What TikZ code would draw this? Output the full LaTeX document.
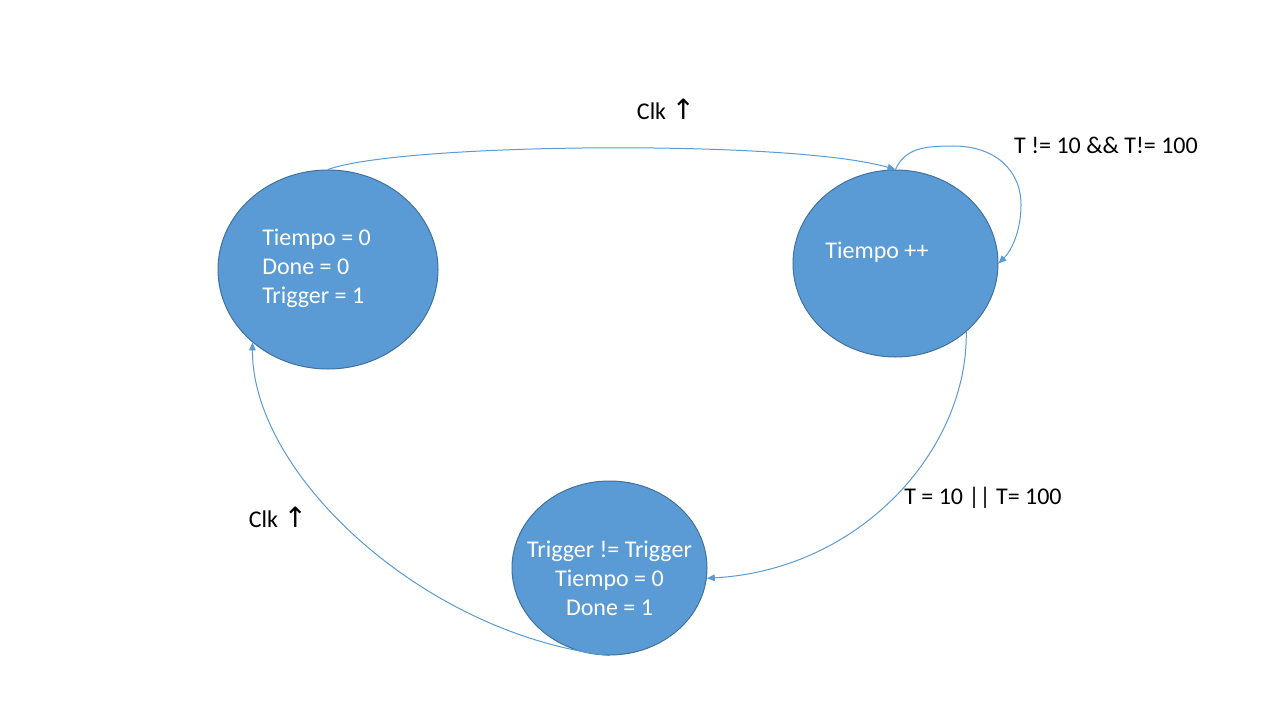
\documentclass[tikz,border=0pt]{standalone}
\usepackage{fontspec}
\setmainfont{Carlito}
\newfontfamily\symfont{DejaVu Sans}
\usetikzlibrary{shapes.geometric,arrows.meta}
\definecolor{stfill}{HTML}{5B9BD5}
\definecolor{stline}{HTML}{41719C}
\definecolor{conncol}{HTML}{5B9BD5}
\newcommand{\myuparrow}{{\symfont\fontsize{21}{21}\selectfont ↑}}
\begin{document}
\begin{tikzpicture}[x=0.75pt,y=-0.75pt,
  state/.style={ellipse, fill=stfill, draw=stline, line width=0.75pt, inner sep=0pt},
  stxt/.style={text=white, font=\fontsize{18}{21.75}\selectfont, inner sep=0pt},
  lbl/.style={text=black, font=\fontsize{18}{21.75}\selectfont, inner sep=0pt},
  link/.style={draw=conncol, line width=0.75pt, -{Triangle[length=6pt,width=5pt]}}]
\fill[white] (0,0) rectangle (1280,720);
\useasboundingbox (0,0) rectangle (1280,720);
% states
\node[state, minimum width=165pt, minimum height=149.25pt] (A) at (328,269.5) {};
\node[state, minimum width=153.75pt, minimum height=140.25pt] (B) at (895.5,263.5) {};
\node[state, minimum width=146.25pt, minimum height=130.5pt] (C) at (609.5,568) {};
\node[stxt, align=left, anchor=west] (At) at (262,268) {Tiempo = 0\\Done = 0\\Trigger = 1};
\node[stxt] (Bt) at (877,252.5) {Tiempo ++};
\node[stxt, align=center] (Ct) at (609.5,578) {Trigger != Trigger\\Tiempo = 0\\Done = 1};
% labels
\node[lbl] (l1) at (666,109.5) {Clk \myuparrow};
\node[lbl] (l2) at (1106,145.5) {T != 10 \&\& T!= 100};
\node[lbl] (l3) at (983,498) {T = 10 || T= 100};
\node[lbl] (l4) at (278,517) {Clk \myuparrow};
% connectors
\draw[link] (A.north) .. controls (400,143) and (790,139) .. (B.north);
\draw[link] (B.north) .. controls (905,148) and (925,146) .. (953,146)
  .. controls (995,146) and (1021,170) .. (1021,205)
  .. controls (1021,230) and (1012,250) .. (B.east);
\draw[link] (B.-44) .. controls (968,450) and (860,570) .. (C.-6);
\draw[link] (C.south) .. controls (425,635) and (252,475) .. (A.224);
\end{tikzpicture}
\end{document}
